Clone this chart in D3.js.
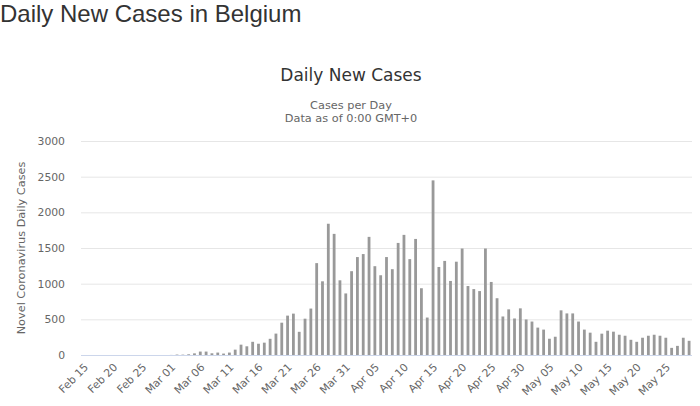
<!DOCTYPE html>
<html>
<head>
<meta charset="utf-8">
<script src="https://cdn.jsdelivr.net/npm/d3@7"></script>
<style>
    body { margin: 0; background: #fff; }
    #page-title { position: absolute; left: 0; top: 0; margin: 0; font: 24px "Liberation Sans", Arial, sans-serif; color: #333; line-height: 28px; }
</style>
</head>
<body>
<div id="page-title">Daily New Cases in Belgium</div>
<div id="chart"></div>
<script>
// ######### DATA ###########
// first day of the series, one bar per day after it
var startDay = new Date(2020, 1, 15);

// daily new cases, Feb 15 .. May 29
var febCases = [0, 0, 0, 0, 0, 0, 0, 0, 0, 0, 0, 0, 0, 0, 0];
var marCases = [1, 6, 5, 10, 23, 48, 48, 24, 34, 20, 34, 75, 145, 122, 185, 158,
    173, 227, 300, 453, 552, 580, 325, 509, 651, 1288, 1033, 1840, 1698, 1047, 863];
var aprCases = [1175, 1373, 1415, 1656, 1245, 1118, 1373, 1203, 1571, 1684, 1344,
    1627, 936, 525, 2448, 1234, 1319, 1038, 1308, 1493, 967, 924, 896, 1493, 1024,
    796, 540, 640, 512, 654];
var mayCases = [498, 469, 384, 356, 228, 256, 626, 583, 583, 469, 356, 313, 185,
    299, 341, 327, 284, 270, 213, 185, 242, 270, 284, 270, 242, 100, 128, 242, 199];

var yTicks = [0, 500, 1000, 1500, 2000, 2500, 3000];
var labelEvery = 5;

// ######### PARAMETERS ###########
var width = 700, height = 406;
var plotLeft = 81, plotRight = 692, plotTop = 141, plotBottom = 355;
var barColor = "#999999";
var uiFont = '"DejaVu Sans", Verdana, sans-serif';

var cases = febCases.concat(marCases, aprCases, mayCases);
var fmt = d3.timeFormat("%b %d");
var days = cases.map(function(d, i) { return d3.timeDay.offset(startDay, i); });
var categories = days.map(fmt);

var svg = d3.select("#chart").append("svg")
    .attr("width", width)
    .attr("height", height)
    .style("position", "absolute")
    .style("left", 0).style("top", 0)
    .style("font-family", uiFont);

var x = d3.scaleBand()
    .domain(categories)
    .range([plotLeft, plotRight]);

var y = d3.scaleLinear()
    .domain([0, 3000])
    .range([plotBottom, plotTop]);

// titles
svg.append("text")
    .attr("x", 351).attr("y", 81)
    .attr("text-anchor", "middle")
    .style("font-size", "17px")
    .style("fill", "#333333")
    .text("Daily New Cases");

svg.append("text")
    .attr("x", 351).attr("y", 109)
    .attr("text-anchor", "middle")
    .style("font-size", "11.3px")
    .style("fill", "#666666")
    .text("Cases per Day");

svg.append("text")
    .attr("x", 351).attr("y", 122)
    .attr("text-anchor", "middle")
    .style("font-size", "11.3px")
    .style("fill", "#666666")
    .text("Data as of 0:00 GMT+0");

// y axis + grid
var yAxis = d3.axisLeft(y)
    .tickValues(yTicks)
    .tickFormat(d3.format("d"))
    .tickSize(-(plotRight - plotLeft))
    .tickPadding(16);

var gy = svg.append("g")
    .attr("transform", "translate(" + plotLeft + ",0)")
    .call(yAxis);
gy.select(".domain").remove();
gy.selectAll(".tick line").attr("stroke", "#e6e6e6");
gy.selectAll(".tick text")
    .style("font-size", "10.8px")
    .style("font-family", uiFont)
    .attr("fill", "#666666");

svg.append("text")
    .attr("transform", "translate(25," + ((plotTop + plotBottom) / 2) + ") rotate(-90)")
    .attr("text-anchor", "middle")
    .style("font-size", "11.3px")
    .style("fill", "#666666")
    .text("Novel Coronavirus Daily Cases");

// bars
var barW = 2.8;
svg.append("g").selectAll("rect")
    .data(cases)
    .enter().append("rect")
    .attr("x", function(d, i) { return x(categories[i]) + x.bandwidth() / 2 - barW / 2; })
    .attr("y", function(d) { return y(d); })
    .attr("width", barW)
    .attr("height", function(d) { return plotBottom - y(d); })
    .attr("fill", barColor);

// x axis
var xAxis = d3.axisBottom(x)
    .tickValues(categories.filter(function(d, i) { return i % labelEvery === 0; }))
    .tickSize(0)
    .tickPadding(0);

var gx = svg.append("g")
    .attr("transform", "translate(0," + plotBottom + ")")
    .call(xAxis);
gx.select(".domain").attr("stroke", "#ccd6eb").attr("d", "M" + plotLeft + ",0.5H" + plotRight);
gx.selectAll(".tick text")
    .style("font-size", "10.8px")
    .style("font-family", uiFont)
    .attr("fill", "#666666")
    .attr("text-anchor", "end")
    .attr("y", 0).attr("dy", 0)
    .attr("transform", "translate(5,13) rotate(-45)");
</script>
</body>
</html>
